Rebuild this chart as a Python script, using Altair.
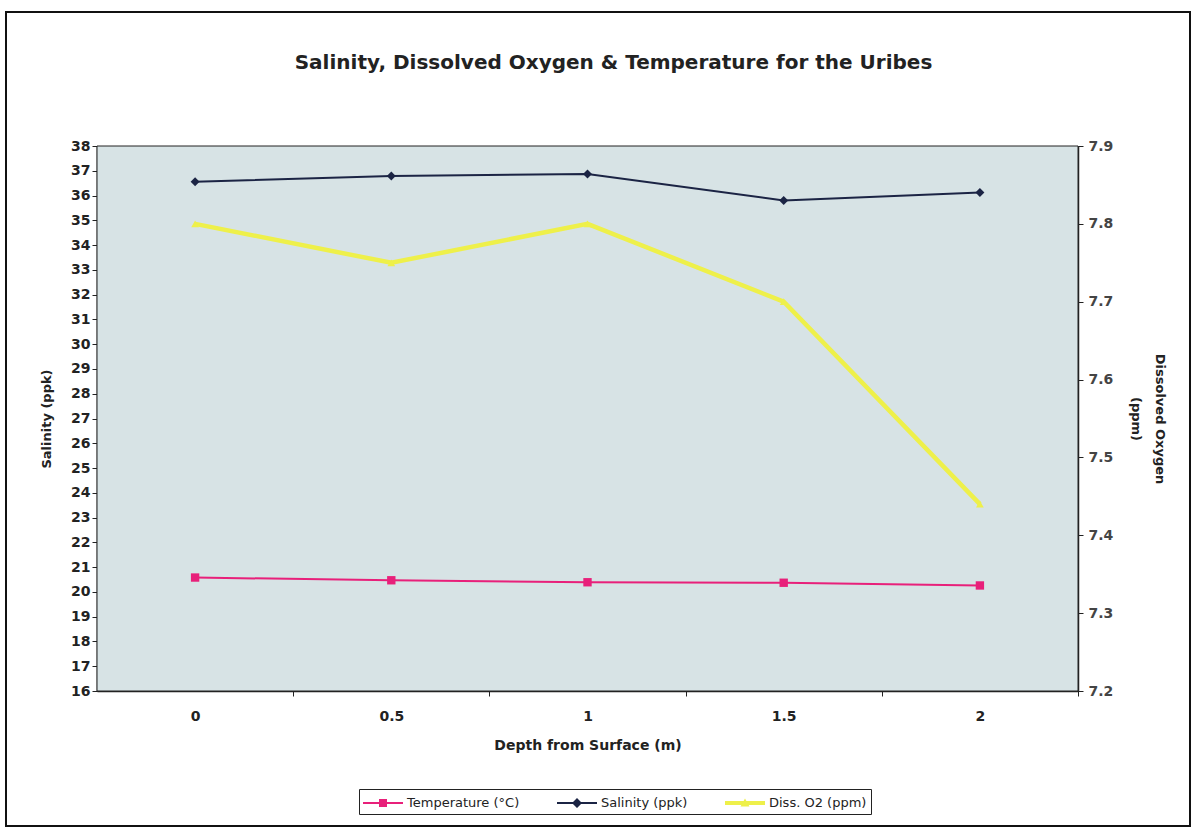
import altair as alt
import pandas as pd

depth = ["0", "0.5", "1", "1.5", "2"]
salinity = [36.56, 36.79, 36.87, 35.80, 36.12]
temperature = [20.58, 20.47, 20.39, 20.37, 20.26]
oxygen = [7.80, 7.75, 7.80, 7.70, 7.44]

series_names = ["Temperature (°C)", "Salinity (ppk)", "Diss. O2 (ppm)"]
series_colors = ["#e8207a", "#1b2444", "#eef04a"]
# legend symbols: a line with the series marker on it
legend_paths = [
    "M-1,-0.1H3V0.1H-1Z M0.6,-0.4H1.4V0.4H0.6Z",
    "M-1,-0.1H3V0.1H-1Z M1,-0.5L1.5,0L1,0.5L0.5,0Z",
    "M-1,-0.2H3V0.2H-1Z M1,-0.45L1.45,0.35L0.55,0.35Z",
]

df = pd.DataFrame({
    "depth": depth,
    "temperature": temperature,
    "salinity": salinity,
    "oxygen": oxygen,
})
legend_df = pd.DataFrame({"series": series_names})

FONT = "DejaVu Sans"
W, H = 981, 545

x_enc = alt.X(
    "depth:O",
    sort=depth,
    scale=alt.Scale(type="point", padding=0.5),
    axis=alt.Axis(
        title="Depth from Surface (m)",
        labelAngle=0,
        labelFontSize=14,
        labelFontWeight="bold",
        labelColor="#222",
        labelPadding=13,
        tickOffset=98,
        labelOffset=-98,
        tickSize=5,
        tickColor="#222",
        domainColor="#222",
        domainWidth=1.5,
        titleFontSize=14,
        titleFontWeight="bold",
        titlePadding=15,
        titleColor="#222",
    ),
)

left_axis = alt.Axis(
    orient="left",
    title="Salinity (ppk)",
    values=list(range(16, 39)),
    labelFontSize=14,
    labelFontWeight="bold",
    labelColor="#222",
    tickSize=5,
    tickColor="#222",
    domainColor="#222",
    domainWidth=1.5,
    grid=False,
    titleFontSize=13,
    titleFontWeight="bold",
    titlePadding=17,
    titleColor="#222",
)

right_axis = alt.Axis(
    orient="right",
    title=["Dissolved Oxygen", "(ppm)"],
    titleAngle=90,
    titleLineHeight=24,
    values=[7.2, 7.3, 7.4, 7.5, 7.6, 7.7, 7.8, 7.9],
    format=".1f",
    labelFontSize=14,
    labelFontWeight="bold",
    labelColor="#444",
    labelPadding=5,
    tickSize=5,
    tickColor="#222",
    domainColor="#222",
    domainWidth=1.5,
    grid=False,
    titleFontSize=13,
    titleFontWeight="bold",
    titlePadding=16,
    titleColor="#222",
)

left_scale = alt.Scale(domain=[16, 38], nice=False, zero=False)
right_scale = alt.Scale(domain=[7.2, 7.9], nice=False, zero=False)

base = alt.Chart(df)

sal_line = base.mark_line(strokeWidth=2, color=series_colors[1]).encode(
    x=x_enc, y=alt.Y("salinity:Q", scale=left_scale, axis=left_axis)
)
sal_pts = base.mark_point(filled=True, size=80, opacity=1, shape="diamond", color=series_colors[1]).encode(
    x=x_enc, y=alt.Y("salinity:Q", scale=left_scale, axis=left_axis)
)
tmp_line = base.mark_line(strokeWidth=2, color=series_colors[0]).encode(
    x=x_enc, y=alt.Y("temperature:Q", scale=left_scale, axis=left_axis)
)
tmp_pts = base.mark_point(filled=True, size=70, opacity=1, shape="square", color=series_colors[0]).encode(
    x=x_enc, y=alt.Y("temperature:Q", scale=left_scale, axis=left_axis)
)

legend_layer = alt.Chart(legend_df).transform_filter("false").mark_point(filled=True).encode(
    color=alt.Color(
        "series:N",
        scale=alt.Scale(domain=series_names, range=series_colors),
        title=None,
        legend=alt.Legend(symbolSize=400, symbolStrokeWidth=0, symbolOpacity=1),
    ),
    shape=alt.Shape(
        "series:N",
        scale=alt.Scale(domain=series_names, range=legend_paths),
        title=None,
        legend=alt.Legend(symbolSize=400, symbolStrokeWidth=0, symbolOpacity=1),
    ),
)

left_layer = alt.layer(tmp_line, sal_line, tmp_pts, sal_pts, legend_layer)

o2_line = base.mark_line(strokeWidth=4.5, color=series_colors[2]).encode(
    x=x_enc, y=alt.Y("oxygen:Q", scale=right_scale, axis=right_axis)
)
o2_pts = base.mark_point(filled=True, size=60, opacity=1, shape="triangle-up", color=series_colors[2]).encode(
    x=x_enc, y=alt.Y("oxygen:Q", scale=right_scale, axis=right_axis)
)
right_layer = alt.layer(o2_line, o2_pts)

deco = alt.Chart(alt.Data(values=[{}]))
plot_bg = deco.mark_rect(fill="#d7e3e5", stroke="#222", strokeWidth=1).encode(
    x=alt.value(0), x2=alt.value(W), y=alt.value(0), y2=alt.value(H)
)
frame = deco.mark_rect(fill=None, stroke="#111", strokeWidth=2).encode(
    x=alt.value(-91), x2=alt.value(1093), y=alt.value(-134), y2=alt.value(680)
)

chart = alt.layer(plot_bg, frame, left_layer, right_layer).resolve_scale(
    y="independent"
).properties(
    width=W,
    height=H,
    padding={"left": 97, "top": 146, "right": 116, "bottom": 140},
    autosize=alt.AutoSizeParams(type="none"),
    background="white",
    title=alt.TitleParams(
        "Salinity, Dissolved Oxygen & Temperature for the Uribes",
        fontSize=20,
        fontWeight="bold",
        font=FONT,
        color="#222",
        offset=0,
        dy=62,
        dx=26,
        frame="group",
    ),
).configure_view(
    fill="#d7e3e5", stroke="#222", strokeWidth=1
).configure_axis(
    labelFont=FONT, titleFont=FONT
).configure_legend(
    orient="none",
    legendX=262,
    legendY=643,
    direction="horizontal",
    strokeColor="#222",
    fillColor="white",
    padding=4,
    labelFont=FONT,
    labelFontSize=13,
    labelColor="#222",
    labelOffset=24,
    columnPadding=37,
)

chart.save("out.html", embed_options={"renderer": "svg", "actions": False})
